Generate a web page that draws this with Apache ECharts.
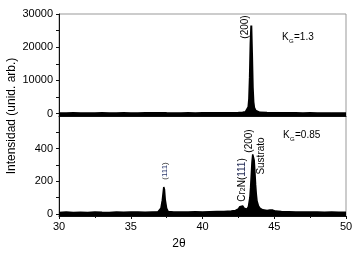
<!DOCTYPE html>
<html lang="es">
<head>
    <meta charset="UTF-8">
    <title>Difractogramas</title>
    <script src="https://cdn.jsdelivr.net/npm/echarts@6/dist/echarts.min.js"></script>
    <style>
        html, body { margin: 0; padding: 0; background: #fff; }
        #chart { width: 359px; height: 256px; }
    </style>
</head>
<body>
<div id="chart"></div>
<script type="text/javascript">
    // panel superior (K_G = 1.3)
    var topTheta = [30, 30.5, 31, 31.5, 32, 32.5, 33, 33.5, 34, 34.5, 35, 35.5, 36, 36.5, 37, 37.5, 38, 38.5, 39, 39.5,
        40, 40.5, 41, 41.5, 42, 42.5, 42.8, 43.0, 43.1, 43.2, 43.25, 43.3, 43.35, 43.4, 43.45, 43.5, 43.55, 43.6,
        43.7, 43.8, 44.0, 44.5, 45, 45.5, 46, 46.5, 47, 47.5, 48, 48.5, 49, 49.5, 50];
    var topCounts = [150, 120, 180, 140, 160, 130, 170, 150, 140, 180, 160, 150, 190, 170, 210, 180, 160, 150, 170, 160,
        180, 200, 190, 220, 240, 280, 350, 500, 900, 2000, 4500, 11000, 21000, 26500, 18000, 8000, 3500, 1800,
        900, 500, 320, 250, 220, 200, 180, 170, 160, 170, 150, 160, 150, 140, 150];

    // panel inferior (K_G = 0.85)
    var botTheta = [30, 30.5, 31, 31.5, 32, 32.5, 33, 33.5, 34, 34.5, 35, 35.5, 36, 36.5, 36.9, 37.0, 37.1, 37.2,
        37.3, 37.35, 37.4, 37.5, 37.6, 38, 38.5, 39, 39.5, 40, 40.5, 41, 41.5, 42, 42.3, 42.5, 42.6, 42.7, 42.8, 42.9,
        43.0, 43.1, 43.2, 43.3, 43.35, 43.4, 43.45, 43.5, 43.55, 43.6, 43.65, 43.7, 43.75, 43.8, 43.9, 44.0, 44.2,
        44.5, 44.7, 44.8, 44.9, 45.1, 45.5, 46, 46.5, 47, 47.5, 48, 48.5, 49, 49.5, 50];
    var botCounts = [10, 12, 9, 11, 10, 13, 11, 10, 12, 11, 13, 12, 11, 13, 14, 18, 35, 85,
        165, 150, 90, 35, 16, 12, 13, 12, 14, 13, 14, 15, 16, 18, 22, 32, 45, 55, 50, 36,
        28, 30, 45, 100, 160, 240, 320, 365, 372, 330, 260, 180, 120, 80, 50, 36, 26,
        22, 24, 28, 24, 18, 15, 14, 13, 12, 13, 12, 11, 12, 11, 11];

    var topLabels = [0, 10000, 20000, 30000];
    var topTicks = [0, 5000, 10000, 15000, 20000, 25000, 30000];
    var botLabels = [0, 200, 400];
    var botTicks = [0, 100, 200, 300, 400, 500];

    function pairs(xs, ys) {
        var res = [];
        for (var i = 0; i < xs.length; i++) {
            res.push([xs[i], ys[i]]);
        }
        return res;
    }

    var chart = echarts.init(document.getElementById('chart'));
    var fnt = 'Liberation Sans, Arial, sans-serif';

    function xAxisOf(grid, labels) {
        return {
            type: 'value', gridIndex: grid, min: 30, max: 50, interval: 5,
            axisLine: {show: true, onZero: false, lineStyle: {color: '#111', width: 1}},
            axisTick: {show: labels, length: 3, lineStyle: {color: '#111'}},
            minorTick: {show: labels, splitNumber: 2, length: 2, lineStyle: {color: '#111'}},
            axisLabel: {show: labels, color: '#000', fontSize: 11, fontFamily: fnt, margin: 5},
            splitLine: {show: false}
        };
    }

    function yAxisOf(grid, min, max, labels, ticks) {
        return {
            type: 'value', gridIndex: grid, min: min, max: max,
            axisLine: {show: true, onZero: false, lineStyle: {color: '#111', width: 1}},
            axisTick: {show: true, length: 3, customValues: ticks, lineStyle: {color: '#111'}},
            axisLabel: {
                show: true, customValues: labels, color: '#000', fontSize: 11, fontFamily: fnt, margin: 6,
                formatter: function (v) { return String(v); }
            },
            splitLine: {show: false}
        };
    }

    var option = {
        animation: false,
        backgroundColor: '#fff',
        grid: [
            {left: 59, right: 13, top: 14, height: 102, show: true, borderColor: '#999', borderWidth: 1},
            {left: 59, right: 13, top: 116, height: 100, show: true, borderColor: '#999', borderWidth: 1}
        ],
        xAxis: [xAxisOf(0, false), xAxisOf(1, true)],
        yAxis: [
            yAxisOf(0, -700, 30000, topLabels, topTicks),
            yAxisOf(1, -12, 600, botLabels, botTicks)
        ],
        series: [
            {
                type: 'line', xAxisIndex: 0, yAxisIndex: 0, data: pairs(topTheta, topCounts),
                showSymbol: false, lineStyle: {color: '#000', width: 2},
                areaStyle: {color: '#000', opacity: 1, origin: 'start'}
            },
            {
                type: 'line', xAxisIndex: 1, yAxisIndex: 1, data: pairs(botTheta, botCounts),
                showSymbol: false, lineStyle: {color: '#000', width: 1.5},
                areaStyle: {color: '#000', opacity: 1, origin: 'start'}
            }
        ],
        graphic: [
            {type: 'text', x: 12, y: 116, rotation: Math.PI / 2,
                style: {text: 'Intensidad (unid. arb.)', fontSize: 12, fontFamily: fnt, fill: '#000', align: 'center', verticalAlign: 'middle'}},
            {type: 'text', x: 179, y: 244,
                style: {text: '2θ', fontSize: 12, fontFamily: fnt, fill: '#000', align: 'center', verticalAlign: 'middle'}},
            // panel superior
            {type: 'text', x: 245, y: 27, rotation: Math.PI / 2,
                style: {text: '(200)', fontSize: 10, fontFamily: fnt, fill: '#000', align: 'center', verticalAlign: 'middle'}},
            {type: 'text', x: 282, y: 37,
                style: {text: 'K', fontSize: 10, fontFamily: fnt, fill: '#000', align: 'left', verticalAlign: 'middle'}},
            {type: 'text', x: 289, y: 41,
                style: {text: 'G', fontSize: 6, fontFamily: fnt, fill: '#000', align: 'left', verticalAlign: 'middle'}},
            {type: 'text', x: 294, y: 37,
                style: {text: '=1.3', fontSize: 10, fontFamily: fnt, fill: '#000', align: 'left', verticalAlign: 'middle'}},
            // panel inferior
            {type: 'text', x: 283, y: 135,
                style: {text: 'K', fontSize: 10, fontFamily: fnt, fill: '#000', align: 'left', verticalAlign: 'middle'}},
            {type: 'text', x: 290, y: 139,
                style: {text: 'G', fontSize: 6, fontFamily: fnt, fill: '#000', align: 'left', verticalAlign: 'middle'}},
            {type: 'text', x: 295, y: 135,
                style: {text: '=0.85', fontSize: 10, fontFamily: fnt, fill: '#000', align: 'left', verticalAlign: 'middle'}},
            {type: 'text', x: 165, y: 171, rotation: Math.PI / 2,
                style: {text: '({b|111})', fontSize: 8, fontFamily: fnt, fill: '#333', align: 'center', verticalAlign: 'middle',
                    rich: {b: {fontSize: 8, fontFamily: fnt, fill: '#2d3a6e'}}}},
            {type: 'text', x: 242, y: 180, rotation: Math.PI / 2,
                style: {text: 'Cr{s|2}N({b|111})', fontSize: 10, fontFamily: fnt, fill: '#000', align: 'center', verticalAlign: 'middle',
                    rich: {s: {fontSize: 7, fontFamily: fnt, verticalAlign: 'bottom', fill: '#000'}, b: {fontSize: 10, fontFamily: fnt, fill: '#28305a'}}}},
            {type: 'text', x: 249, y: 141, rotation: Math.PI / 2,
                style: {text: '(200)', fontSize: 10, fontFamily: fnt, fill: '#000', align: 'center', verticalAlign: 'middle'}},
            {type: 'text', x: 261, y: 156, rotation: Math.PI / 2,
                style: {text: 'Sustrato', fontSize: 10, fontFamily: fnt, fill: '#000', align: 'center', verticalAlign: 'middle'}}
        ]
    };

    chart.setOption(option);
</script>
</body>
</html>
